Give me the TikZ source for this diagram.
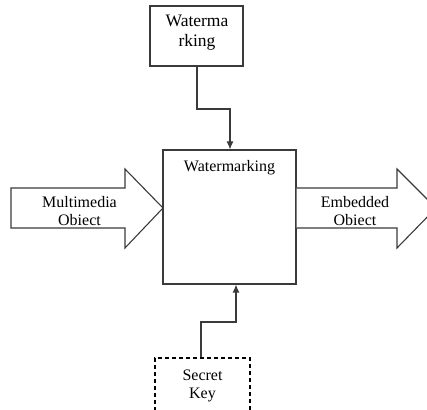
\documentclass[tikz,border=0pt]{standalone}
\usepackage{fontspec}
\setmainfont{Liberation Serif}
\usetikzlibrary{arrows.meta}
\definecolor{linegray}{HTML}{3A3A3A}
\begin{document}
\begin{tikzpicture}[x=1pt,y=1pt,
  box/.style={draw=linegray,line width=1.1pt,fill=white,inner sep=0pt},
  dashbox/.style={draw=black,line width=1.1pt,dash pattern=on 4pt off 3pt,inner sep=0pt},
  lbl/.style={align=center,font=\rmfamily\fontsize{16}{18}\selectfont,inner sep=0pt},
  conn/.style={draw=linegray,line width=1.1pt,-{Latex[length=8pt,width=7pt]}},
  bigarrow/.style={draw=linegray,line width=1.1pt,fill=white,line join=miter}]
\useasboundingbox (0,0) rectangle (427,409);
\clip (0,0) rectangle (427,409);
% top box
\node[box,minimum width=93pt,minimum height=60pt] (top) at (196.5,373) {};
\node[lbl,font=\rmfamily\fontsize{17.5}{20}\selectfont] (toplbl) at (197,376) {Waterma\\rking};
% main box
\node[box,minimum width=133pt,minimum height=134pt] (main) at (229.5,192) {};
\node[lbl] (mainlbl) at (229.5,241) {Watermarking};
% left big arrow
\draw[bigarrow] (11,221) -- (125,221) -- (125,240) -- (163,201) -- (125,161) -- (125,181) -- (11,181) -- cycle;
\node[lbl] (inlbl) at (79.5,197.5) {Multimedia\\Obiect};
% right big arrow
\draw[bigarrow] (296.5,221) -- (397,221) -- (397,240) -- (436,201) -- (397,161) -- (397,181) -- (296.5,181);
\node[lbl] (outlbl) at (355,197.5) {Embedded\\Obiect};
% secret key box
\node[dashbox,minimum width=95pt,minimum height=62pt] (key) at (202.5,20) {};
\node[lbl] (keylbl) at (202.5,23.5) {Secret\\Key};
% connectors
\coordinate (t1) at (197,300);
\coordinate (t2) at (230,300);
\draw[conn] (top.south -| t1) -- (t1) -- (t2) -- (t2 |- main.north);
\coordinate (b1) at (201,87);
\coordinate (b2) at (236,87);
\draw[conn] (key.north -| b1) -- (b1) -- (b2) -- (b2 |- main.south);
\end{tikzpicture}
\end{document}
